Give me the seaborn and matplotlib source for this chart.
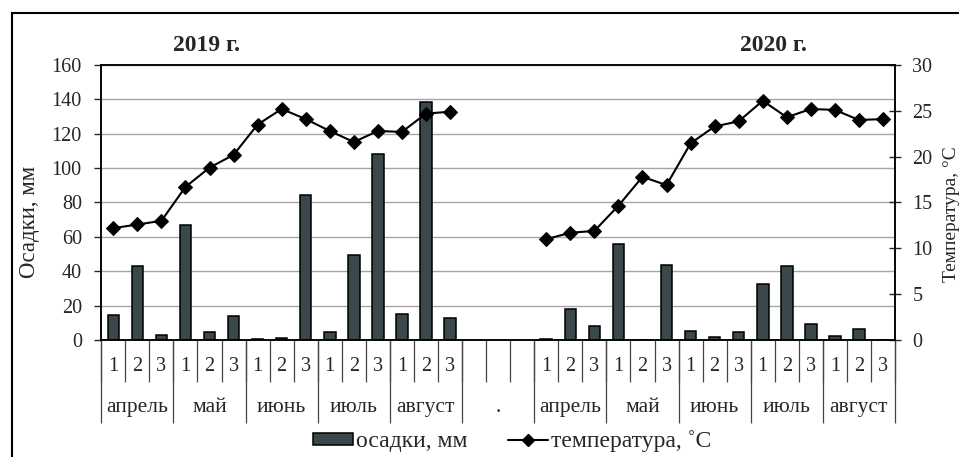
import numpy as np
import pandas as pd
import matplotlib.pyplot as plt
import matplotlib.patches as mpatches
import matplotlib.lines as mlines
import seaborn as sns

# decades of the vegetation period
months = ["апрель", "май", "июнь", "июль", "август"]
decades = ["1", "2", "3"]
years = ["2019", "2020"]
gap_slots = 3  # empty slots between the two seasons

# precipitation per decade, mm
precip_2019 = [14.5, 43, 3, 67, 4.6, 14, 0.5, 1, 84.3, 4.6, 49.5, 108, 15.2, 138.5, 13]
precip_2020 = [0.5, 18.2, 8.1, 55.8, 0, 43.6, 5.2, 1.8, 4.6, 32.4, 42.9, 9.3, 2.3, 6.4, 0]

# mean air temperature per decade, C
temp_2019 = [12.2, 12.6, 13.0, 16.7, 18.8, 20.2, 23.5, 25.2, 24.1, 22.8, 21.6, 22.8, 22.7, 24.7, 24.9]
temp_2020 = [11.0, 11.7, 11.9, 14.65, 17.8, 16.9, 21.45, 23.3, 23.85, 26.1, 24.3, 25.2, 25.1, 24.0, 24.1]

bar_color = "#3a484b"

# build the table
rows = []
for year, pr, tm in zip(years, [precip_2019, precip_2020], [temp_2019, temp_2020]):
    i = 0
    for m in months:
        for d in decades:
            rows.append({"year": year, "month": m, "decade": d, "key": f"{year} {m} {d}",
                         "precip": pr[i], "temp": tm[i]})
            i += 1
df = pd.DataFrame(rows)

order = list(df.loc[df.year == years[0], "key"]) + [f"gap {g}" for g in range(gap_slots)] \
    + list(df.loc[df.year == years[1], "key"])
df["pos"] = df["key"].map({k: i for i, k in enumerate(order)})
n_slots = len(order)

sns.set_style("ticks")
plt.rcParams["font.family"] = ["Liberation Serif", "DejaVu Serif"]
plt.rcParams["font.size"] = 14

fig = plt.figure(figsize=(9.59, 4.57), dpi=100)
ax = fig.add_axes([0.1056, 0.256, 0.8277, 0.6018])
ax2 = ax.twinx()

ax.set_axisbelow(True)
ax.yaxis.grid(True, color="#a6a6a6", lw=1)
sns.barplot(data=df, x="key", y="precip", order=order, color=bar_color, saturation=1,
            edgecolor="black", linewidth=1.1, width=0.48, ax=ax)
sns.lineplot(data=df, x="pos", y="temp", units="year", estimator=None, color="black",
             marker="D", markersize=7.5, markeredgecolor="black", linewidth=1.5, ax=ax2)

ax.set_xlim(-0.5, n_slots - 0.5)
ax.set_ylim(0, 160)
ax.set_yticks(np.arange(0, 161, 20))
ax2.set_ylim(0, 30)
ax2.set_yticks(np.arange(0, 31, 5))
for a in (ax, ax2):
    a.set_xlabel("")
    a.set_ylabel("")
    for s in a.spines.values():
        s.set_color("black")
        s.set_linewidth(1.1)

ax.tick_params(axis="y", direction="out", length=5, width=1, pad=9, labelsize=14.5)
ax2.tick_params(axis="y", direction="inout", length=9, width=1, pad=8, labelsize=14.5)

# decade level of the category axis
dec_labels = ["" if k.startswith("gap") else k.split()[-1] for k in order]
ax.set_xticks(range(n_slots), dec_labels)
ax.tick_params(axis="x", which="major", length=0, pad=12, labelsize=14.5)
ax.set_xticks(np.arange(n_slots + 1) - 0.5, minor=True)
ax.tick_params(axis="x", which="minor", direction="out", length=30, width=0.9, color="#444444")

# month level of the category axis
groups = months + ["."] + months
sizes = [len(decades)] * len(months) + [gap_slots] + [len(decades)] * len(months)
edges = np.concatenate([[0], np.cumsum(sizes)]) - 0.5
centers = (edges[:-1] + edges[1:]) / 2
sec = ax.secondary_xaxis("bottom")
sec.set_xticks(edges, [""] * len(edges))
sec.tick_params(axis="x", which="major", direction="out", length=60, width=0.9, color="#444444")
sec.set_xticks(centers, groups, minor=True)
sec.tick_params(axis="x", which="minor", length=0, pad=42, labelsize=15.5)
sec.spines["bottom"].set_visible(False)

# titles and axis labels
fig.text(0.2155, 0.9004, "2019 г.", ha="center", va="center", fontsize=17, fontweight="bold")
fig.text(0.8064, 0.9004, "2020 г.", ha="center", va="center", fontsize=17, fontweight="bold")
fig.text(0.031, 0.515, "Осадки, мм", rotation=90, ha="center", va="center", fontsize=16.5)
fig.text(0.9925, 0.532, "Температура, °C", rotation=90, ha="center", va="center", fontsize=14)

# legend
h_bar = mpatches.Patch(facecolor=bar_color, edgecolor="black", linewidth=1.1)
h_line = mlines.Line2D([], [], color="black", marker="D", markersize=6, linewidth=1.5)
fig.legend([h_bar, h_line], ["осадки, мм", "температура, ˚C"], loc="center",
           bbox_to_anchor=(0.534, 0.034), ncol=2, frameon=False, fontsize=17,
           handlelength=1.7, handleheight=0.45, handletextpad=0.13, columnspacing=1.7)

# outer frame
fig.patches.append(mpatches.Rectangle((0.0125, -0.1), 1.2, 1.0716, transform=fig.transFigure,
                                      fill=False, edgecolor="black", linewidth=1.5))

fig.savefig("out.png", dpi=100)
